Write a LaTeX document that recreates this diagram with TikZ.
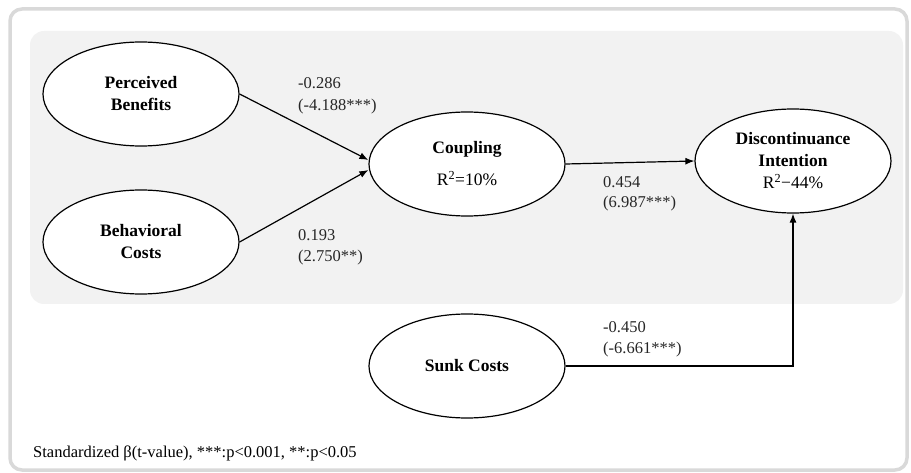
\documentclass[tikz,border=0pt]{standalone}
\usepackage{fontspec}
\setmainfont{Liberation Serif}
\usetikzlibrary{arrows.meta,shapes.geometric}
\definecolor{panelgray}{HTML}{F2F2F2}
\definecolor{framegray}{HTML}{D9D9D9}
\tikzset{
  construct/.style={ellipse, draw=black, line width=1.2pt, fill=white,
    minimum width=196pt, minimum height=104pt, inner sep=0pt, align=center,
    font=\fontsize{17.5}{22}\selectfont},
  path/.style={draw=black, line width=1.2pt, -{Latex[length=9pt,width=7pt]}},
  coef/.style={anchor=base west, inner sep=0pt, font=\fontsize{16.5}{20}\selectfont, text=black!85},
}
\begin{document}
\begin{tikzpicture}[x=1pt,y=-1pt]
\useasboundingbox (0,0) rectangle (911,473);
% outer frame and panel
\draw[framegray, line width=3.5pt, rounded corners=12pt] (10,9) rectangle (907,470);
\fill[panelgray, rounded corners=14pt] (30,31) rectangle (903,304);
% constructs
\node[construct] (pb) at (141,94) {\textbf{Perceived}\\\textbf{Benefits}};
\node[construct] (bc) at (141,242) {\textbf{Behavioral}\\\textbf{Costs}};
\node[construct] (cp) at (467,164) {\textbf{Coupling}\\[10pt]R\textsuperscript{2}=10\%};
\node[construct] (di) at (793,161) {\textbf{Discontinuance}\\\textbf{Intention}\\R\textsuperscript{2}−44\%};
\node[construct] (sc) at (467,366) {\textbf{Sunk Costs}};
% paths
\draw[path] (pb.east) -- ([yshift=4pt]cp.west);
\draw[path] (bc.east) -- ([yshift=-6pt]cp.west);
\draw[path] (cp.east) -- (di.west);
\draw[path] (sc.east) -| (di.south);
% coefficients
\node[coef] (l1a) at (298,89) {-0.286};
\node[coef] (l1b) at (298,111) {(-4.188***)};
\node[coef] (l2a) at (298,241) {0.193};
\node[coef] (l2b) at (298,262) {(2.750**)};
\node[coef] (l3a) at (603,188) {0.454};
\node[coef] (l3b) at (603,208) {(6.987***)};
\node[coef] (l4a) at (603,332) {-0.450};
\node[coef] (l4b) at (603,353) {(-6.661***)};
% footer
\node[coef, text=black] (foot) at (33,457) {Standardized β(t-value), ***:p<0.001, **:p<0.05};
\end{tikzpicture}
\end{document}
